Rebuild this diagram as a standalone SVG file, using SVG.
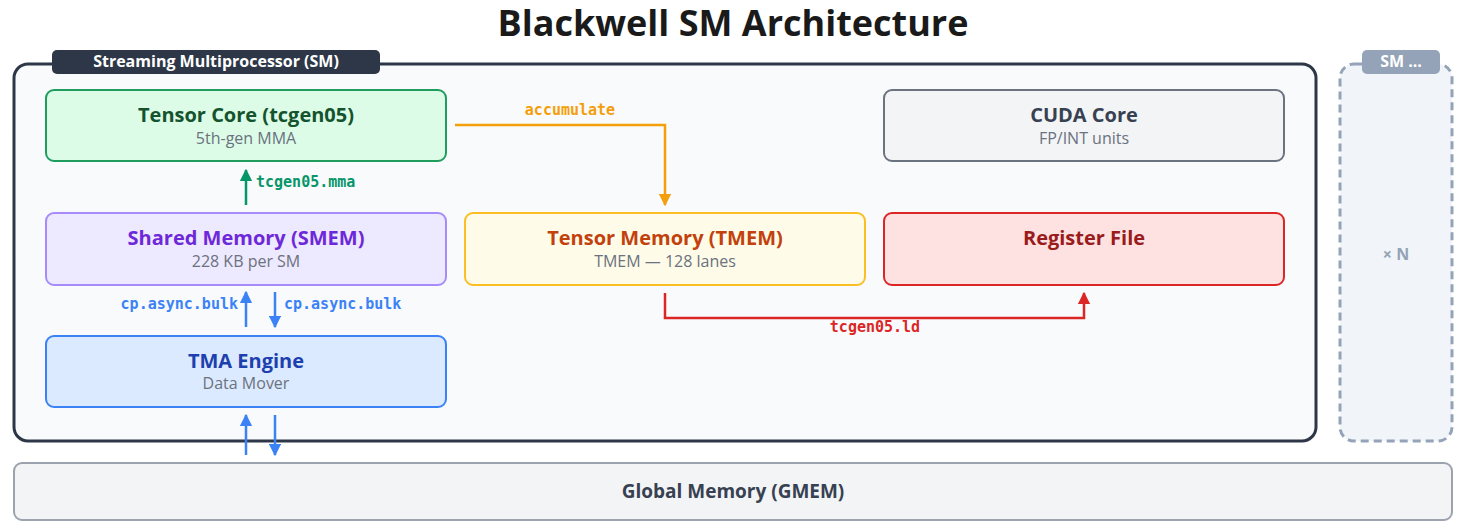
<svg xmlns="http://www.w3.org/2000/svg" width="1461" height="527" viewBox="0 0 1461 527">
<style>
.t{font-family:"Open Sans","DejaVu Sans",sans-serif;font-weight:700;text-anchor:middle}
.s{font-family:"Open Sans","DejaVu Sans",sans-serif;font-size:16px;fill:#6b7280;text-anchor:middle}
.m{font-family:"DejaVu Sans Mono","Liberation Mono",monospace;font-weight:700;font-size:15px}
.n{stroke-width:2}
</style>
<defs>
<marker id="ag" viewBox="0 0 10 10" refX="9" refY="5" markerWidth="5" markerHeight="5" orient="auto-start-reverse"><path d="M0,0L10,5L0,10z" fill="#059669"/></marker>
<marker id="ao" viewBox="0 0 10 10" refX="9" refY="5" markerWidth="5" markerHeight="5" orient="auto-start-reverse"><path d="M0,0L10,5L0,10z" fill="#f59e0b"/></marker>
<marker id="ab" viewBox="0 0 10 10" refX="9" refY="5" markerWidth="5" markerHeight="5" orient="auto-start-reverse"><path d="M0,0L10,5L0,10z" fill="#3b82f6"/></marker>
<marker id="ar" viewBox="0 0 10 10" refX="9" refY="5" markerWidth="5" markerHeight="5" orient="auto-start-reverse"><path d="M0,0L10,5L0,10z" fill="#dc2626"/></marker>
</defs>
<rect width="1461" height="527" fill="#fff"/>
<text class="t" x="733" y="36" font-size="36" fill="#1a1a1a">Blackwell SM Architecture</text>
<g id="sm">
<rect x="14" y="64" width="1302" height="377" rx="14" fill="#f8fafc" stroke="#2d3748" stroke-width="3"/>
<rect x="52" y="50" width="328" height="24" rx="5" fill="#2d3748"/>
<text class="t" x="216" y="67" font-size="16" fill="#fff">Streaming Multiprocessor (SM)</text>
</g>
<g id="smn">
<rect x="1340" y="64" width="112" height="377" rx="14" fill="#f1f5f9" stroke="#94a3b8" stroke-width="3" stroke-dasharray="8 5"/>
<rect x="1362" y="50" width="78" height="24" rx="5" fill="#94a3b8"/>
<text class="t" x="1401" y="67" font-size="16" fill="#fff">SM ...</text>
<text class="t" x="1396" y="260" font-size="16" fill="#94a3b8">× N</text>
</g>
<g id="tensor"><rect class="n" x="46" y="90" width="400" height="71" rx="8" fill="#dcfce7" stroke="#1f9d5f"/>
<text class="t" x="246" y="122" font-size="20" fill="#14532d">Tensor Core (tcgen05)</text><text class="s" x="246" y="144">5th-gen MMA</text></g>
<g id="cuda"><rect class="n" x="884" y="90" width="400" height="71" rx="8" fill="#f3f4f6" stroke="#6b7280"/>
<text class="t" x="1084" y="122" font-size="20" fill="#374151">CUDA Core</text><text class="s" x="1084" y="144">FP/INT units</text></g>
<g id="smem"><rect class="n" x="46" y="213" width="400" height="72" rx="8" fill="#ede9fe" stroke="#a78bfa"/>
<text class="t" x="246" y="245" font-size="20" fill="#6d28d9">Shared Memory (SMEM)</text><text class="s" x="246" y="267">228 KB per SM</text></g>
<g id="tmem"><rect class="n" x="465" y="213" width="400" height="72" rx="8" fill="#fefce8" stroke="#fbbf24"/>
<text class="t" x="665" y="245" font-size="20" fill="#c2410c">Tensor Memory (TMEM)</text><text class="s" x="665" y="267">TMEM — 128 lanes</text></g>
<g id="reg"><rect class="n" x="884" y="213" width="400" height="72" rx="8" fill="#fee2e2" stroke="#dc2626"/>
<text class="t" x="1084" y="245" font-size="20" fill="#991b1b">Register File</text></g>
<g id="tma"><rect class="n" x="46" y="336" width="400" height="71" rx="8" fill="#dbeafe" stroke="#3b82f6"/>
<text class="t" x="246" y="368" font-size="20" fill="#1e40af">TMA Engine</text><text class="s" x="246" y="389">Data Mover</text></g>
<g id="gmem"><rect class="n" x="14" y="463" width="1438" height="57" rx="8" fill="#f3f4f6" stroke="#9ca3af"/>
<text class="t" x="733" y="498" font-size="19" fill="#374151">Global Memory (GMEM)</text></g>
<g id="connectors" fill="none" stroke-width="2.5">
<path d="M246,205V170" stroke="#059669" marker-end="url(#ag)"/>
<path d="M455,125H665V205" stroke="#f59e0b" marker-end="url(#ao)"/>
<path d="M246,327V292" stroke="#3b82f6" marker-end="url(#ab)"/>
<path d="M275,292V327" stroke="#3b82f6" marker-end="url(#ab)"/>
<path d="M246,455V415" stroke="#3b82f6" marker-end="url(#ab)"/>
<path d="M275,415V455" stroke="#3b82f6" marker-end="url(#ab)"/>
<path d="M665,293V318H1084V293" stroke="#dc2626" marker-end="url(#ar)"/>
<text class="m" x="256" y="187" fill="#059669" stroke="none">tcgen05.mma</text>
<text class="m" x="570" y="115" fill="#f59e0b" stroke="none" text-anchor="middle">accumulate</text>
<text class="m" x="238" y="309" fill="#3b82f6" stroke="none" text-anchor="end">cp.async.bulk</text>
<text class="m" x="284" y="309" fill="#3b82f6" stroke="none">cp.async.bulk</text>
<text class="m" x="875" y="332" fill="#dc2626" stroke="none" text-anchor="middle">tcgen05.ld</text>
</g>
</svg>
